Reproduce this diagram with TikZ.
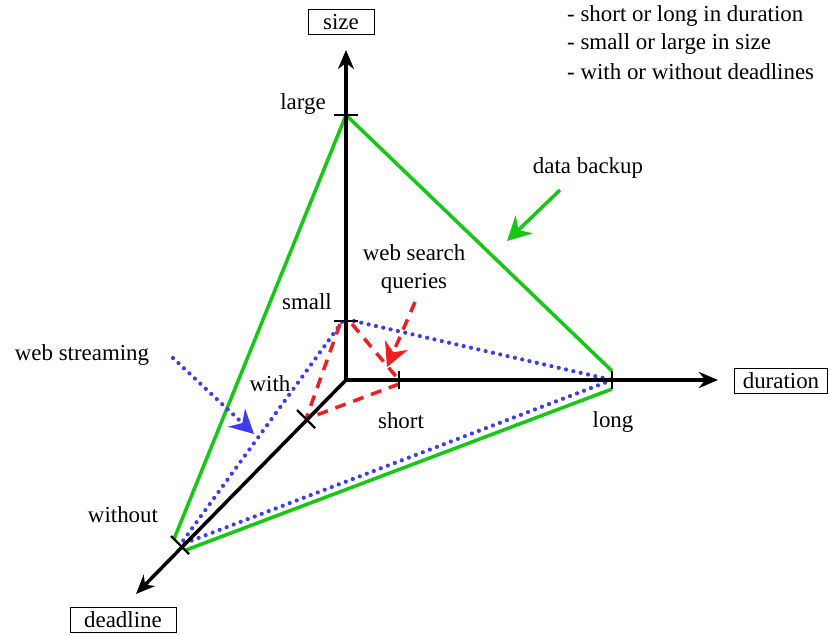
\documentclass[tikz,border=0pt]{standalone}
\usepackage{fontspec}
\setmainfont{Liberation Serif}
\usetikzlibrary{arrows.meta,calc}
\definecolor{gline}{RGB}{20,200,20}
\definecolor{bline}{RGB}{60,60,240}
\definecolor{rline}{RGB}{240,30,30}
\tikzset{
  axis/.style={line width=3.5bp,-{Stealth[length=19bp,width=16bp,inset=6bp]}},
  tickmark/.style={line width=2.3bp},
  greenedge/.style={gline,line width=3.5bp},
  blueedge/.style={bline,line width=4.2bp,dash pattern=on 0bp off 7.5bp,line cap=round},
  rededge/.style={rline,line width=3.5bp,dash pattern=on 11bp off 8bp},
  pointer/.style={-{Stealth[length=24bp,width=25bp,inset=8bp,line cap=butt,line width=0bp]}},
  lbl/.style={font=\fontsize{23}{28}\selectfont,inner sep=0pt},
  boxlbl/.style={draw,line width=1bp,font=\fontsize{23}{28}\selectfont,inner sep=0pt,minimum height=25bp},
}
\begin{document}
\begin{tikzpicture}[x=1bp,y=-1bp]
\useasboundingbox (0,0) rectangle (830,635);
% axes
\coordinate (O) at (346,380);
\coordinate (sizeTip) at (346,50);
\coordinate (durTip) at (718,380);
\coordinate (deadTip) at (136,594);
% tick positions
\coordinate (large) at (346,115);
\coordinate (small) at (346,321);
\coordinate (short) at (399,380);
\coordinate (long) at (612,380);
\coordinate (with) at (306,419);
\coordinate (without) at (180,545);

% triangles
\draw[greenedge] (large) -- ($(without)+(-6,-6)$);
\draw[greenedge] (large) -- ($(long)+(0,-9)$);
\draw[greenedge] ($(long)+(0,9)$) -- ($(without)+(6,5)$);
\draw[blueedge] ($(small)+(-4,1)$) -- (without);
\draw[blueedge] ($(small)+(8,0)$) -- (long);
\draw[blueedge] (long) -- (without);
\draw[rededge] ($(small)+(-6,3)$) -- (with);
\draw[rededge] ($(small)+(6,3)$) -- (short);
\draw[rededge] ($(short)+(0,4)$) -- (with);

% axes
\draw[axis] (O) -- (sizeTip);
\draw[axis] (O) -- (durTip);
\draw[axis] (O) -- (deadTip);

% ticks
\draw[tickmark] ($(large)+(-12,0)$) -- ($(large)+(12,0)$);
\draw[tickmark] ($(small)+(-12,0)$) -- ($(small)+(12,0)$);
\draw[tickmark] ($(short)+(0,-9)$) -- ($(short)+(0,9)$);
\draw[tickmark] ($(long)+(0,-9)$) -- ($(long)+(0,9)$);
\draw[tickmark] ($(with)+(-9,-9)$) -- ($(with)+(9,9)$);
\draw[tickmark] ($(without)+(-9,-9)$) -- ($(without)+(9,9)$);

% axis names
\node[boxlbl,minimum width=66bp] (sizeBox) at (341,22) {size};
\node[boxlbl,minimum width=93bp] (durBox) at (781,381) {duration};
\node[boxlbl,minimum width=106bp] (deadBox) at (123,620) {deadline};

% tick labels
\node[lbl] (tLarge) at (303,104) {large};
\node[lbl] (tSmall) at (307,302) {small};
\node[lbl] (tWith) at (270,384) {with};
\node[lbl] (tWithout) at (123,515) {without};
\node[lbl] (tShort) at (401,421) {short};
\node[lbl] (tLong) at (613,422) {long};

% service labels and pointers
\node[lbl,align=center] (wsq) at (414,269) {web search\\queries};
\node[lbl] (dback) at (588,168) {data backup};
\node[lbl] (wstream) at (82,355) {web streaming};
\coordinate (wsqFrom) at (415,302);
\coordinate (wsqTo) at (387,367);
\coordinate (dbFrom) at (560,190);
\coordinate (dbTo) at (507,241);
\coordinate (wstFrom) at (173,358);
\coordinate (wstTo) at (254,434);
\draw[rededge,pointer] (wsqFrom) -- (wsqTo);
\draw[greenedge,pointer] (dbFrom) -- (dbTo);
\draw[blueedge,pointer] (wstFrom) -- (wstTo);

% legend
\node[lbl,anchor=west] (leg1) at (567,16) {- short or long in duration};
\node[lbl,anchor=west] (leg2) at (567,44) {- small or large in size};
\node[lbl,anchor=west] (leg3) at (567,72) {- with or without deadlines};
\end{tikzpicture}
\end{document}
